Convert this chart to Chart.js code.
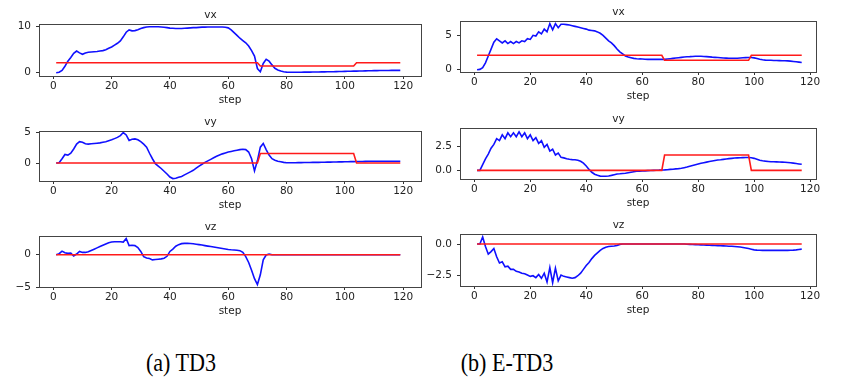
<!DOCTYPE html>
<html lang="en">
<head>
<meta charset="UTF-8">
<title>vx / vy / vz - TD3 vs E-TD3</title>
<script src="https://cdn.jsdelivr.net/npm/chart.js"></script>
<style>
  body { margin: 0; background: #fff; }
  #page { position: relative; width: 845px; height: 392px; overflow: hidden; background: #fff; }
  #page canvas { position: absolute; }
  .caption {
    position: absolute;
    top: 350px;
    font-family: 'Liberation Serif', 'Times New Roman', serif;
    font-size: 26px;
    line-height: 26px;
    color: #000;
    white-space: nowrap;
    transform: translateX(-50%) scaleX(0.85);
  }
</style>
</head>
<body>
<div id="page">
  <div class="caption" style="left:181px">(a) TD3</div>
  <div class="caption" style="left:507px">(b) E-TD3</div>
</div>
<script>
// ---- data (index i -> step i+1) ----
const xTicks = [0, 20, 40, 60, 80, 100, 120];

// (a) TD3, steps 1..119
const td3Vx = [
  0.0, 0.1, 0.5, 1.4, 2.5, 3.3, 4.2, 4.7, 4.3, 4.0,
  4.3, 4.45, 4.5, 4.55, 4.6, 4.7, 4.8, 5.0, 5.3, 5.6,
  6.0, 6.4, 6.9, 7.8, 8.8, 9.3, 9.1, 9.15, 9.35, 9.6,
  9.8, 9.95, 10.0, 10.0, 10.0, 10.0, 9.95, 9.9, 9.8, 9.7,
  9.65, 9.6, 9.6, 9.6, 9.65, 9.7, 9.75, 9.8, 9.8, 9.85,
  9.9, 9.9, 9.95, 9.95, 9.95, 9.95, 9.95, 9.95, 9.9, 9.75,
  9.3, 8.7, 8.1, 7.5, 7.0, 6.5, 5.8, 4.8, 3.6, 0.9,
  0.2, 2.0, 2.9, 2.5, 1.7, 0.95, 0.6, 0.35, 0.2, 0.12,
  0.1, 0.1, 0.1, 0.1, 0.1, 0.12, 0.12, 0.13, 0.14, 0.15,
  0.16, 0.17, 0.18, 0.2, 0.21, 0.22, 0.24, 0.25, 0.27, 0.28,
  0.3, 0.31, 0.33, 0.35, 0.36, 0.38, 0.4, 0.41, 0.43, 0.44,
  0.45, 0.46, 0.47, 0.48, 0.49, 0.5, 0.5, 0.5, 0.5
];
const td3VxRef = [
  2.15, 2.15, 2.15, 2.15, 2.15, 2.15, 2.15, 2.15, 2.15, 2.15,
  2.15, 2.15, 2.15, 2.15, 2.15, 2.15, 2.15, 2.15, 2.15, 2.15,
  2.15, 2.15, 2.15, 2.15, 2.15, 2.15, 2.15, 2.15, 2.15, 2.15,
  2.15, 2.15, 2.15, 2.15, 2.15, 2.15, 2.15, 2.15, 2.15, 2.15,
  2.15, 2.15, 2.15, 2.15, 2.15, 2.15, 2.15, 2.15, 2.15, 2.15,
  2.15, 2.15, 2.15, 2.15, 2.15, 2.15, 2.15, 2.15, 2.15, 2.15,
  2.15, 2.15, 2.15, 2.15, 2.15, 2.15, 2.15, 2.15, 2.15, 2.15,
  1.45, 1.45, 1.45, 1.45, 1.45, 1.45, 1.45, 1.45, 1.45, 1.45,
  1.45, 1.45, 1.45, 1.45, 1.45, 1.45, 1.45, 1.45, 1.45, 1.45,
  1.45, 1.45, 1.45, 1.45, 1.45, 1.45, 1.45, 1.45, 1.45, 1.45,
  1.45, 1.45, 1.45, 2.15, 2.15, 2.15, 2.15, 2.15, 2.15, 2.15,
  2.15, 2.15, 2.15, 2.15, 2.15, 2.15, 2.15, 2.15, 2.15
];
const td3Vy = [
  0.0, 0.05, 0.7, 1.4, 1.3, 1.6, 2.3, 3.1, 3.5, 3.4,
  3.15, 3.1, 3.15, 3.2, 3.25, 3.3, 3.4, 3.5, 3.65, 3.8,
  4.0, 4.2, 4.5, 5.0, 4.6, 3.7, 3.9, 3.95, 3.8, 3.5,
  3.1, 2.6, 1.6, 0.7, -0.1, -0.5, -0.9, -1.35, -1.8, -2.3,
  -2.55, -2.5, -2.35, -2.2, -1.95, -1.7, -1.45, -1.2, -0.85, -0.5,
  -0.2, 0.1, 0.35, 0.6, 0.85, 1.1, 1.3, 1.5, 1.65, 1.8,
  1.9, 2.0, 2.1, 2.2, 2.25, 2.2, 1.8, 0.7, -1.3, 0.4,
  2.6, 3.2, 2.2, 1.3, 0.7, 0.45, 0.3, 0.2, 0.1, 0.05,
  0.05, 0.05, 0.05, 0.06, 0.07, 0.08, 0.08, 0.09, 0.1, 0.1,
  0.11, 0.12, 0.13, 0.14, 0.15, 0.16, 0.17, 0.18, 0.19, 0.2,
  0.21, 0.22, 0.23, 0.24, 0.25, 0.26, 0.27, 0.28, 0.29, 0.3,
  0.3, 0.3, 0.3, 0.3, 0.3, 0.3, 0.3, 0.3, 0.3
];
const td3VyRef = [
  0, 0, 0, 0, 0, 0, 0, 0, 0, 0,
  0, 0, 0, 0, 0, 0, 0, 0, 0, 0,
  0, 0, 0, 0, 0, 0, 0, 0, 0, 0,
  0, 0, 0, 0, 0, 0, 0, 0, 0, 0,
  0, 0, 0, 0, 0, 0, 0, 0, 0, 0,
  0, 0, 0, 0, 0, 0, 0, 0, 0, 0,
  0, 0, 0, 0, 0, 0, 0, 0, 0, 0,
  1.55, 1.55, 1.55, 1.55, 1.55, 1.55, 1.55, 1.55, 1.55, 1.55,
  1.55, 1.55, 1.55, 1.55, 1.55, 1.55, 1.55, 1.55, 1.55, 1.55,
  1.55, 1.55, 1.55, 1.55, 1.55, 1.55, 1.55, 1.55, 1.55, 1.55,
  1.55, 1.55, 1.55, 0, 0, 0, 0, 0, 0, 0,
  0, 0, 0, 0, 0, 0, 0, 0, 0
];
const td3Vz = [
  0.0, 0.15, 0.55, 0.3, 0.2, 0.25, -0.2, 0.1, 0.5, 0.35,
  0.35, 0.45, 0.65, 0.85, 1.05, 1.25, 1.45, 1.65, 1.85, 1.95,
  2.0, 2.0, 2.0, 1.95, 2.5, 1.4, 1.45, 1.4, 1.1, 0.5,
  -0.3, -0.5, -0.6, -0.8, -0.75, -0.7, -0.65, -0.55, -0.25, 0.5,
  0.85, 1.3, 1.55, 1.7, 1.75, 1.75, 1.72, 1.68, 1.62, 1.55,
  1.48, 1.4, 1.32, 1.25, 1.18, 1.1, 1.02, 0.95, 0.88, 0.8,
  0.75, 0.72, 0.68, 0.62, 0.35, -0.3, -1.2, -2.4, -3.7, -4.6,
  -3.1, -0.8, -0.05, 0.1, 0.0, 0.0, 0.0, 0.0, 0.0, 0.0,
  0.0, 0.0, 0.0, 0.0, 0.0, 0.0, 0.0, 0.0, 0.0, 0.0,
  0.0, 0.0, 0.0, 0.0, 0.0, 0.0, 0.0, 0.0, 0.0, 0.0,
  0.0, 0.0, 0.0, 0.0, 0.0, 0.0, 0.0, 0.0, 0.0, 0.0,
  0.0, 0.0, 0.0, 0.0, 0.0, 0.0, 0.0, 0.0, 0.0
];
const td3VzRef = [
  0, 0, 0, 0, 0, 0, 0, 0, 0, 0,
  0, 0, 0, 0, 0, 0, 0, 0, 0, 0,
  0, 0, 0, 0, 0, 0, 0, 0, 0, 0,
  0, 0, 0, 0, 0, 0, 0, 0, 0, 0,
  0, 0, 0, 0, 0, 0, 0, 0, 0, 0,
  0, 0, 0, 0, 0, 0, 0, 0, 0, 0,
  0, 0, 0, 0, 0, 0, 0, 0, 0, 0,
  0, 0, 0, 0, 0, 0, 0, 0, 0, 0,
  0, 0, 0, 0, 0, 0, 0, 0, 0, 0,
  0, 0, 0, 0, 0, 0, 0, 0, 0, 0,
  0, 0, 0, 0, 0, 0, 0, 0, 0, 0,
  0, 0, 0, 0, 0, 0, 0, 0, 0
];

// (b) E-TD3, steps 1..117
const etd3Vx = [
  0.0, 0.05, 0.3, 1.0, 2.0, 3.0, 4.0, 4.5, 4.2, 3.9,
  4.2, 3.8, 4.1, 3.8, 4.1, 3.9, 4.2, 4.1, 4.5, 4.4,
  5.0, 4.9, 5.5, 5.2, 5.9, 5.5, 6.7, 5.8, 6.7, 6.1,
  6.6, 6.6, 6.55, 6.5, 6.4, 6.3, 6.2, 6.1, 6.0, 5.9,
  5.75, 5.7, 5.65, 5.5, 5.3, 5.0, 4.6, 4.2, 3.9, 3.5,
  3.0, 2.6, 2.3, 2.0, 1.85, 1.75, 1.65, 1.6, 1.57, 1.55,
  1.52, 1.5, 1.5, 1.5, 1.5, 1.5, 1.5, 1.5, 1.55, 1.6,
  1.65, 1.7, 1.75, 1.8, 1.85, 1.88, 1.9, 1.93, 1.95, 1.95,
  1.95, 1.93, 1.9, 1.87, 1.83, 1.8, 1.77, 1.74, 1.71, 1.69,
  1.67, 1.66, 1.66, 1.67, 1.7, 1.73, 1.76, 1.78, 1.78, 1.72,
  1.62, 1.52, 1.45, 1.4, 1.38, 1.37, 1.35, 1.33, 1.32, 1.31,
  1.3, 1.28, 1.25, 1.2, 1.15, 1.1, 1.05
];
const etd3VxRef = [
  2.1, 2.1, 2.1, 2.1, 2.1, 2.1, 2.1, 2.1, 2.1, 2.1,
  2.1, 2.1, 2.1, 2.1, 2.1, 2.1, 2.1, 2.1, 2.1, 2.1,
  2.1, 2.1, 2.1, 2.1, 2.1, 2.1, 2.1, 2.1, 2.1, 2.1,
  2.1, 2.1, 2.1, 2.1, 2.1, 2.1, 2.1, 2.1, 2.1, 2.1,
  2.1, 2.1, 2.1, 2.1, 2.1, 2.1, 2.1, 2.1, 2.1, 2.1,
  2.1, 2.1, 2.1, 2.1, 2.1, 2.1, 2.1, 2.1, 2.1, 2.1,
  2.1, 2.1, 2.1, 2.1, 2.1, 2.1, 2.1, 1.37, 1.37, 1.37,
  1.37, 1.37, 1.37, 1.37, 1.37, 1.37, 1.37, 1.37, 1.37, 1.37,
  1.37, 1.37, 1.37, 1.37, 1.37, 1.37, 1.37, 1.37, 1.37, 1.37,
  1.37, 1.37, 1.37, 1.37, 1.37, 1.37, 1.37, 1.37, 2.1, 2.1,
  2.1, 2.1, 2.1, 2.1, 2.1, 2.1, 2.1, 2.1, 2.1, 2.1,
  2.1, 2.1, 2.1, 2.1, 2.1, 2.1, 2.1
];
const etd3Vy = [
  0.0, 0.0, 0.6, 1.2, 1.7, 2.3, 2.7, 3.3, 3.1, 3.7,
  3.3, 3.9, 3.5, 3.9, 3.5, 4.0, 3.5, 3.9, 3.3, 3.7,
  3.1, 3.4, 2.8, 3.1, 2.4, 2.7, 2.0, 2.2, 1.6, 1.8,
  1.35, 1.3, 1.2, 1.15, 1.12, 1.1, 1.05, 0.95, 0.75, 0.45,
  0.1, -0.2, -0.4, -0.52, -0.6, -0.62, -0.62, -0.58, -0.52, -0.45,
  -0.38, -0.36, -0.33, -0.3, -0.25, -0.2, -0.15, -0.1, -0.08, -0.06,
  -0.05, -0.03, -0.02, 0.0, 0.01, 0.02, 0.04, 0.05, 0.07, 0.1,
  0.12, 0.15, 0.18, 0.22, 0.28, 0.34, 0.42, 0.5, 0.58, 0.66,
  0.74, 0.8, 0.86, 0.92, 0.97, 1.02, 1.07, 1.1, 1.14, 1.18,
  1.22, 1.25, 1.28, 1.3, 1.32, 1.33, 1.34, 1.34, 1.32, 1.25,
  1.15, 1.05, 1.0, 0.96, 0.93, 0.9, 0.89, 0.88, 0.87, 0.86,
  0.84, 0.82, 0.79, 0.75, 0.71, 0.67, 0.63
];
const etd3VyRef = [
  0, 0, 0, 0, 0, 0, 0, 0, 0, 0,
  0, 0, 0, 0, 0, 0, 0, 0, 0, 0,
  0, 0, 0, 0, 0, 0, 0, 0, 0, 0,
  0, 0, 0, 0, 0, 0, 0, 0, 0, 0,
  0, 0, 0, 0, 0, 0, 0, 0, 0, 0,
  0, 0, 0, 0, 0, 0, 0, 0, 0, 0,
  0, 0, 0, 0, 0, 0, 0, 1.6, 1.6, 1.6,
  1.6, 1.6, 1.6, 1.6, 1.6, 1.6, 1.6, 1.6, 1.6, 1.6,
  1.6, 1.6, 1.6, 1.6, 1.6, 1.6, 1.6, 1.6, 1.6, 1.6,
  1.6, 1.6, 1.6, 1.6, 1.6, 1.6, 1.6, 1.6, 0, 0,
  0, 0, 0, 0, 0, 0, 0, 0, 0, 0,
  0, 0, 0, 0, 0, 0, 0
];
const etd3Vz = [
  0.0, 0.0, 0.55, -0.2, -0.8, -0.6, -0.35, -1.0, -1.5, -1.4,
  -1.8, -1.75, -2.0, -2.0, -2.15, -2.2, -2.3, -2.35, -2.45, -2.55,
  -2.5, -2.65, -2.4, -2.7, -2.3, -3.0, -1.85, -3.05, -1.9, -2.9,
  -2.45, -2.55, -2.6, -2.65, -2.7, -2.65, -2.5, -2.3, -2.0, -1.7,
  -1.45, -1.15, -0.9, -0.7, -0.5, -0.35, -0.25, -0.2, -0.18, -0.16,
  -0.12, -0.03, 0.0, 0.0, 0.0, 0.0, 0.0, 0.0, 0.0, 0.0,
  0.0, 0.0, 0.0, 0.0, 0.0, 0.0, 0.0, 0.0, 0.0, 0.0,
  0.0, 0.0, 0.0, 0.0, 0.0, -0.02, -0.03, -0.04, -0.05, -0.06,
  -0.07, -0.08, -0.09, -0.1, -0.11, -0.12, -0.13, -0.14, -0.15, -0.16,
  -0.17, -0.18, -0.2, -0.22, -0.24, -0.27, -0.31, -0.36, -0.41, -0.46,
  -0.48, -0.49, -0.5, -0.5, -0.5, -0.5, -0.5, -0.5, -0.5, -0.5,
  -0.5, -0.5, -0.49, -0.48, -0.46, -0.43, -0.4
];
const etd3VzRef = [
  0, 0, 0, 0, 0, 0, 0, 0, 0, 0,
  0, 0, 0, 0, 0, 0, 0, 0, 0, 0,
  0, 0, 0, 0, 0, 0, 0, 0, 0, 0,
  0, 0, 0, 0, 0, 0, 0, 0, 0, 0,
  0, 0, 0, 0, 0, 0, 0, 0, 0, 0,
  0, 0, 0, 0, 0, 0, 0, 0, 0, 0,
  0, 0, 0, 0, 0, 0, 0, 0, 0, 0,
  0, 0, 0, 0, 0, 0, 0, 0, 0, 0,
  0, 0, 0, 0, 0, 0, 0, 0, 0, 0,
  0, 0, 0, 0, 0, 0, 0, 0, 0, 0,
  0, 0, 0, 0, 0, 0, 0, 0, 0, 0,
  0, 0, 0, 0, 0, 0, 0
];

// y tick values and their labels per panel
const ticksVxA = [0, 10],  labelsVxA = ['0', '10'];
const ticksVyA = [0, 5],   labelsVyA = ['0', '5'];
const ticksVzA = [-5, 0],  labelsVzA = ['\u22125', '0'];
const ticksVxB = [0, 5],   labelsVxB = ['0', '5'];
const ticksVyB = [0, 2.5], labelsVyB = ['0.0', '2.5'];
const ticksVzB = [-2.5, 0], labelsVzB = ['\u22122.5', '0.0'];

// ---- layout ----
const YW = 39, TH = 17, XH = 30, RP = 14;
const FONT = "'DejaVu Sans', sans-serif";
const TXT = '#222';

// matplotlib-like box around the axes
const framePlugin = {
  id: 'frame',
  afterDatasetsDraw(chart) {
    const { ctx, chartArea: a } = chart;
    ctx.save();
    ctx.strokeStyle = '#444';
    ctx.lineWidth = 1;
    ctx.strokeRect(a.left + 0.5, a.top + 0.5, a.right - a.left, a.bottom - a.top);
    ctx.restore();
  }
};

function panel(frame, title, blue, red, yMin, yMax, yTicks, yLabels, xMin, xMax) {
  const [x0, y0, x1, y1] = frame;
  const canvas = document.createElement('canvas');
  const w = x1 - x0 + YW + RP, h = y1 - y0 + TH + XH;
  canvas.width = w; canvas.height = h;
  canvas.style.left = (x0 - YW) + 'px';
  canvas.style.top = (y0 - TH) + 'px';
  canvas.style.width = w + 'px';
  canvas.style.height = h + 'px';
  document.getElementById('page').appendChild(canvas);

  const pts = arr => arr.map((v, i) => ({ x: i + 1, y: v }));
  const tickFont = { family: FONT, size: 10.5 };

  new Chart(canvas, {
    type: 'line',
    data: {
      datasets: [
        { data: pts(red), borderColor: '#ff1a1a', borderWidth: 1.6, pointRadius: 0, tension: 0 },
        { data: pts(blue), borderColor: '#1010ff', borderWidth: 1.6, pointRadius: 0, tension: 0 }
      ]
    },
    options: {
      responsive: false,
      animation: false,
      devicePixelRatio: 1,
      layout: { padding: { left: 0, top: 0, right: RP, bottom: 0 } },
      plugins: {
        legend: { display: false },
        tooltip: { enabled: false },
        title: {
          display: true,
          text: title,
          color: TXT,
          font: { family: FONT, size: 10.5, weight: 'normal', lineHeight: '12px' },
          padding: { top: 2, bottom: 3 }
        }
      },
      scales: {
        x: {
          type: 'linear',
          min: xMin, max: xMax,
          bounds: 'data',
          afterBuildTicks: axis => { axis.ticks = xTicks.map(v => ({ value: v })); },
          afterFit: axis => { axis.height = XH; },
          ticks: { color: TXT, font: tickFont, padding: 1, maxRotation: 0, autoSkip: false,
                   callback: v => String(v) },
          grid: { drawOnChartArea: false, drawTicks: true, tickLength: 3, color: '#333' },
          border: { display: false },
          title: { display: true, text: 'step', color: TXT, padding: 0,
                   font: { family: FONT, size: 10.5, lineHeight: '12px' } }
        },
        y: {
          min: yMin, max: yMax,
          bounds: 'data',
          afterBuildTicks: axis => { axis.ticks = yTicks.map(v => ({ value: v })); },
          afterFit: axis => { axis.width = YW; },
          ticks: { color: TXT, font: tickFont, padding: 5, autoSkip: false,
                   callback: v => yLabels[yTicks.indexOf(v)] },
          grid: { drawOnChartArea: false, drawTicks: true, tickLength: 3, color: '#333' },
          border: { display: false }
        }
      }
    },
    plugins: [framePlugin]
  });
}

// (a) TD3 column
panel([39, 24, 421, 76],   'vx', td3Vx, td3VxRef, -0.72, 10.59, ticksVxA, labelsVxA, -4.9, 126.1);
panel([39, 131, 421, 181], 'vy', td3Vy, td3VyRef, -2.95, 5.25,  ticksVyA, labelsVyA, -4.9, 126.1);
panel([39, 236, 421, 287], 'vz', td3Vz, td3VzRef, -4.98, 2.88,  ticksVzA, labelsVzA, -4.9, 126.1);
// (b) E-TD3 column
panel([460, 21, 816, 72],   'vx', etd3Vx, etd3VxRef, -0.33, 7.08, ticksVxB, labelsVxB, -5.1, 122.1);
panel([460, 128, 816, 179], 'vy', etd3Vy, etd3VyRef, -0.9, 4.41,  ticksVyB, labelsVyB, -5.1, 122.1);
panel([460, 234, 816, 286], 'vz', etd3Vz, etd3VzRef, -3.31, 0.79, ticksVzB, labelsVzB, -5.1, 122.1);
</script>
</body>
</html>
